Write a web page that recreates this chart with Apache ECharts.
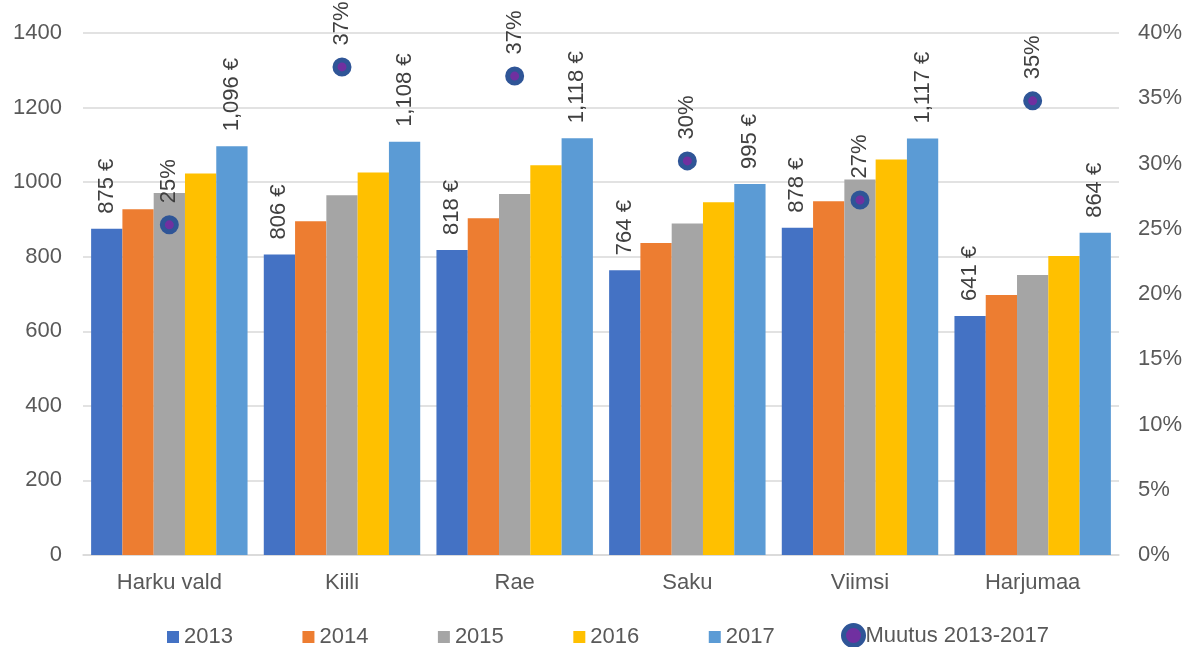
<!DOCTYPE html>
<html>
<head>
<meta charset="utf-8">
<script src="https://cdn.jsdelivr.net/npm/echarts@6/dist/echarts.min.js"></script>
<style>
  html, body { margin: 0; padding: 0; background: #fff; }
  #chart { width: 1190px; height: 647px; }
</style>
</head>
<body>
<div id="chart"></div>
<script>
  // kategooriad ja väärtused
  var categories = ['Harku vald', 'Kiili', 'Rae', 'Saku', 'Viimsi', 'Harjumaa'];
  var years = ['2013', '2014', '2015', '2016', '2017'];
  var v2013 = [875, 806, 818, 764, 878, 641];
  var v2014 = [927, 895, 903, 837, 949, 697];
  var v2015 = [971, 965, 968, 889, 1007, 751];
  var v2016 = [1023, 1026, 1045, 946, 1061, 802];
  var v2017 = [1096, 1108, 1118, 995, 1117, 864];
  var muutus = [25.3, 37.4, 36.7, 30.2, 27.2, 34.8];
  var leftTicks = [0, 1400, 200];
  var rightTicks = [0, 40, 5];

  var colors = ['#4472C4', '#ED7D31', '#A5A5A5', '#FFC000', '#5B9BD5'];
  var font = 'Liberation Sans, Arial, sans-serif';
  var textColor = '#595959';

  function euro(v) {
    return v.toString().replace(/\B(?=(\d{3})+(?!\d))/g, ',') + ' €';
  }

  var myChart = echarts.init(document.getElementById('chart'));
  var barData = [v2013, v2014, v2015, v2016, v2017];
  var series = [];
  barData.forEach(function (vals, i) {
    var showLabel = (i === 0 || i === 4);
    series.push({
      name: years[i],
      type: 'bar',
      data: vals,
      barGap: '0%',
      barCategoryGap: '9.4%',
      itemStyle: { color: colors[i] },
      label: {
        show: showLabel,
        position: 'top',
        rotate: 90,
        align: 'left',
        verticalAlign: 'middle',
        distance: 15,
        color: '#404040',
        fontSize: 22,
        fontFamily: font,
        formatter: function (p) { return euro(p.value); }
      }
    });
  });
  series.push({
    name: 'Muutus 2013-2017',
    type: 'scatter',
    yAxisIndex: 1,
    data: muutus,
    symbol: 'circle',
    symbolSize: 14,
    z: 5,
    itemStyle: { color: '#7030A0', borderColor: '#2F5597', borderWidth: 5, opacity: 1 },
    label: {
      show: true,
      position: 'top',
      rotate: 90,
      align: 'left',
      verticalAlign: 'middle',
      distance: 12,
      color: '#404040',
      textBorderWidth: 0,
      fontSize: 22,
      fontFamily: font,
      formatter: function (p) { return Math.round(p.value) + '%'; }
    }
  });

  var option = {
    animation: false,
    backgroundColor: '#fff',
    grid: { left: 83, right: 71, top: 33, bottom: 92 },
    legend: [{
      data: years,
      left: 167,
      top: 626,
      padding: 0,
      itemWidth: 12,
      itemHeight: 12,
      itemGap: 69.5,
      icon: 'rect',
      textStyle: { color: textColor, fontSize: 22, fontFamily: font }
    }, {
      data: [{
        name: 'Muutus 2013-2017',
        itemStyle: { color: '#7030A0', borderColor: '#2F5597', borderWidth: 5, opacity: 1 }
      }],
      left: 841,
      top: 623,
      padding: 0,
      itemWidth: 20,
      itemHeight: 20,
      textStyle: { color: textColor, fontSize: 22, fontFamily: font, padding: [0, 0, 0, -3] }
    }],
    xAxis: {
      type: 'category',
      data: categories,
      axisTick: { show: false },
      axisLine: { lineStyle: { color: '#D9D9D9', width: 1.5 } },
      axisLabel: { color: textColor, fontSize: 22, fontFamily: font, margin: 17 }
    },
    yAxis: [{
      type: 'value',
      min: leftTicks[0],
      max: leftTicks[1],
      interval: leftTicks[2],
      axisLine: { show: false },
      axisTick: { show: false },
      splitLine: { lineStyle: { color: '#D9D9D9', width: 1.5 } },
      axisLabel: { color: textColor, fontSize: 22, fontFamily: font, margin: 21,
        formatter: function (v) { return String(v); } }
    }, {
      type: 'value',
      min: rightTicks[0],
      max: rightTicks[1],
      interval: rightTicks[2],
      axisLine: { show: false },
      axisTick: { show: false },
      splitLine: { show: false },
      axisLabel: { color: textColor, fontSize: 22, fontFamily: font, margin: 19, formatter: '{value}%' }
    }],
    series: series
  };
  myChart.setOption(option, true);
</script>
</body>
</html>
